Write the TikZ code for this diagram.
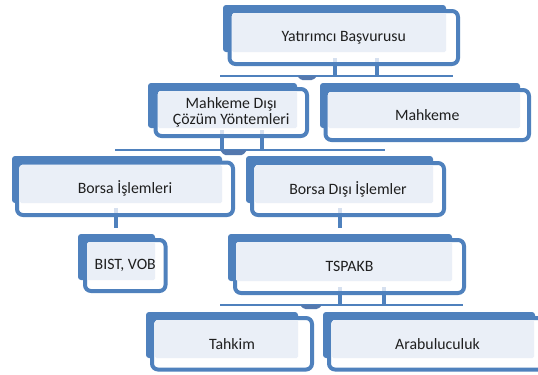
\documentclass[tikz,border=0pt]{standalone}
\usepackage{fontspec}
\setmainfont{Carlito}
\definecolor{bl}{HTML}{4F81BD}
\definecolor{lt}{HTML}{EAEFF7}
\definecolor{pale}{HTML}{D6E0EF}
\definecolor{bumpc}{HTML}{5478AE}
\tikzset{
  bfill/.style={fill=bl, rounded corners=3bp},
  outl/.style={draw=bl, line width=4bp, fill=white, rounded corners=6bp},
  lfill/.style={fill=lt, rounded corners=1.5bp},
  txt/.style={inner sep=0pt, align=center, font=\fontsize{15.8bp}{16.5bp}\selectfont, text=black!88},
  bar/.style={draw=bl, line width=4bp},
  palebar/.style={draw=pale, line width=4bp},
  hline/.style={draw=bl, line width=2bp},
  bumpst/.style={fill=bumpc, rounded corners=1.5bp},
}
\begin{document}
\begin{tikzpicture}[x=1bp, y=-1bp]
\useasboundingbox (0,0) rectangle (538,374);
\fill[white] (0,0) rectangle (538,374);

% Box 1
\fill[bfill] (223,5) rectangle (446,52);
\draw[outl] (229.5,11) rectangle (458,64);
\fill[lfill] (232,13) rectangle (446,52);
\node[txt, minimum width=228.5bp, minimum height=53bp] (n1) at (343.75,37.5) {Yatırımcı Başvurusu};

% Box 2
\fill[bfill] (148,83) rectangle (297,128);
\draw[outl] (155.5,89) rectangle (307,136);
\fill[lfill] (158,91) rectangle (297,128);
\node[txt, minimum width=151.5bp, minimum height=47bp] (n2) at (231.25,112.5) {Mahkeme Dışı\\Çözüm Yöntemleri};

% Box 3
\fill[bfill] (320,83) rectangle (520,128);
\draw[outl] (325.5,90) rectangle (529,140);
\fill[lfill] (328,92) rectangle (520,128);
\node[txt, minimum width=203.5bp, minimum height=50bp] (n3) at (427.25,115) {Mahkeme};

% Box 4
\fill[bfill] (12,156) rectangle (222,203);
\draw[outl] (17,162.5) rectangle (233,215);
\fill[lfill] (20,165) rectangle (222,203);
\node[txt, minimum width=216bp, minimum height=52.5bp] (n4) at (125,188.75) {Borsa İşlemleri};

% Box 5
\fill[bfill] (246,156) rectangle (433,203);
\draw[outl] (252,163) rectangle (444,215);
\fill[lfill] (255,165) rectangle (433,203);
\node[txt, minimum width=192bp, minimum height=52bp] (n5) at (348,189) {Borsa Dışı İşlemler};

% Box 6
\fill[bfill] (78,234) rectangle (155,280);
\draw[outl] (85,240) rectangle (165.5,291);
\fill[lfill] (87,242) rectangle (155,280);
\node[txt, minimum width=80.5bp, minimum height=51bp] (n6) at (125.25,265.5) {BIST, VOB};

% Box 7
\fill[bfill] (228,234) rectangle (452,281);
\draw[outl] (235,240) rectangle (464,293);
\fill[lfill] (236,242) rectangle (452,281);
\node[txt, minimum width=229bp, minimum height=53bp] (n7) at (349.5,266.5) {TSPAKB};

% Box 8
\fill[bfill] (146,312) rectangle (298,358);
\draw[outl] (152,318) rectangle (312,369.5);
\fill[lfill] (155,320) rectangle (298,358);
\node[txt, minimum width=160bp, minimum height=51.5bp] (n8) at (232,343.75) {Tahkim};

% Box 9
\fill[bfill] (323,312) rectangle (535,358);
\draw[outl] (329,318) rectangle (546,369.5);
\fill[lfill] (332,320) rectangle (534,358);
\node[txt, minimum width=217bp, minimum height=51.5bp] (n9) at (437.5,343.75) {Arabuluculuk};

% Connector level 1
\coordinate (a1) at (335,76);
\coordinate (a2) at (377,76);
\coordinate (h1l) at (220,76);
\coordinate (h1r) at (453,76);
\draw[palebar] ([yshift=6bp]n1.south -| a1) -- ([yshift=2bp]n1.south -| a1);
\draw[palebar] ([yshift=6bp]n1.south -| a2) -- ([yshift=2bp]n1.south -| a2);
\draw[bar] (n1.south -| a1) -- (a1);
\draw[bar] (n1.south -| a2) -- (a2);
\draw[hline] (h1l) -- (h1r);
\fill[bumpst] (297,76) -- (317,76) -- (313,80) -- (301,80) -- cycle;

% Connector level 2
\coordinate (b1) at (222,150);
\coordinate (b2) at (262,150);
\coordinate (h2l) at (115,150);
\coordinate (h2r) at (385,150);
\draw[palebar] ([yshift=6bp]n2.south -| b1) -- ([yshift=2bp]n2.south -| b1);
\draw[palebar] ([yshift=6bp]n2.south -| b2) -- ([yshift=2bp]n2.south -| b2);
\draw[bar] (n2.south -| b1) -- (b1);
\draw[bar] (n2.south -| b2) -- (b2);
\draw[hline] (h2l) -- (h2r);
\fill[bumpst] (220,150) -- (247,150) -- (243,155) -- (224,155) -- cycle;

% Single connectors
\coordinate (c1) at (116,228);
\coordinate (c2) at (340,228);
\draw[palebar] ([yshift=7bp]n4.south -| c1) -- ([yshift=2bp]n4.south -| c1);
\draw[palebar] ([yshift=7bp]n5.south -| c2) -- ([yshift=2bp]n5.south -| c2);
\draw[bar] (n4.south -| c1) -- (c1);
\draw[bar] (n5.south -| c2) -- (c2);

% Connector level 3
\coordinate (d1) at (340,305);
\coordinate (d2) at (384,305);
\coordinate (h3l) at (220,305);
\coordinate (h3r) at (463,305);
\draw[palebar] ([yshift=6bp]n7.south -| d1) -- ([yshift=2bp]n7.south -| d1);
\draw[palebar] ([yshift=6bp]n7.south -| d2) -- ([yshift=2bp]n7.south -| d2);
\draw[bar] (n7.south -| d1) -- (d1);
\draw[bar] (n7.south -| d2) -- (d2);
\draw[hline] (h3l) -- (h3r);
\fill[bumpst] (300,305) -- (322,305) -- (318,309) -- (304,309) -- cycle;
\end{tikzpicture}
\end{document}
